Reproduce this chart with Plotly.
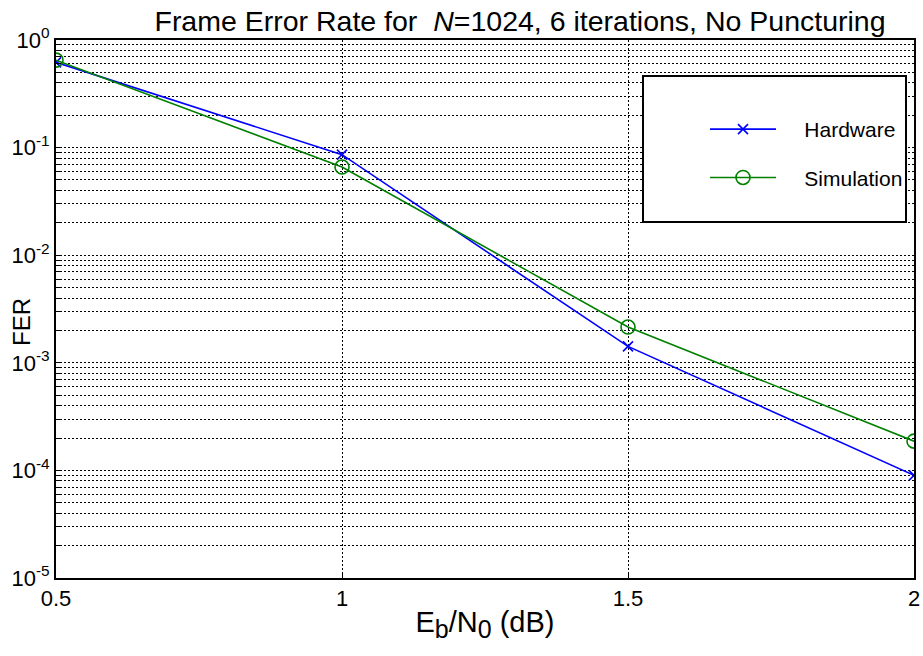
import plotly.graph_objects as go

# Eb/N0 operating points (dB)
ebn0 = [0.5, 1.0, 1.5, 2.0]

# Measured frame error rates
fer_hardware = [0.62, 0.086, 1.42e-3, 9.0e-5]
fer_simulation = [0.65, 0.066, 2.15e-3, 1.87e-4]

x_tick_vals = [0.5, 1.0, 1.5, 2.0]
x_tick_text = ["0.5", "1", "1.5", "2"]
decades = [-5, -4, -3, -2, -1, 0]

# Major ticks at each decade, unlabeled minor ticks at 2..9 x 10^n
y_tick_vals, y_tick_text = [], []
for d in decades:
    y_tick_vals.append(10.0 ** d)
    y_tick_text.append(f"10<sup>{d}</sup>")
    if d < 0:
        for k in range(2, 10):
            y_tick_vals.append(k * 10.0 ** d)
            y_tick_text.append("")

FONT = "Liberation Sans, Arial, sans-serif"
PAD = "\u00a0" * 4

ML, MR, MT, MB = 56, 9, 40, 78
W, H = 923, 656
PW, PH = W - ML - MR, H - MT - MB

fig = go.Figure()
fig.add_trace(go.Scatter(
    x=ebn0, y=fer_hardware, name=PAD + "Hardware", mode="lines+markers",
    line=dict(color="#0000FF", width=1.6),
    marker=dict(symbol="x-thin", size=10, line=dict(color="#0000FF", width=1.6)),
    legendgroup="hw",
))
fig.add_trace(go.Scatter(
    x=ebn0, y=fer_simulation, name=PAD + "Simulation", mode="lines+markers",
    line=dict(color="#008000", width=1.6),
    marker=dict(symbol="circle-open", size=14, line=dict(color="#008000", width=1.6)),
    legendgroup="sim",
))

# Legend frame
fig.add_shape(type="rect", xref="paper", yref="paper",
              x0=(643 - ML) / PW, x1=(906 - ML) / PW,
              y0=1 - (222 - MT) / PH, y1=1 - (76 - MT) / PH,
              fillcolor="white", line=dict(color="black", width=2), layer="above")

# Vertical axis label
fig.add_annotation(
    text="FER", textangle=-90, showarrow=False,
    xref="paper", yref="paper", x=-(ML - 21) / PW, y=1 - (322 - MT) / PH,
    xanchor="center", yanchor="middle",
    font=dict(family=FONT, size=24, color="black"),
)

fig.update_layout(
    width=W, height=H,
    margin=dict(l=ML, r=MR, t=MT, b=MB),
    paper_bgcolor="white", plot_bgcolor="white",
    font=dict(family=FONT, color="black", size=20),
    title=dict(
        text="Frame Error Rate for  <i>N</i>=1024, 6 iterations, No Puncturing",
        x=(520 - ML) / PW, xref="paper", xanchor="center",
        y=1 - 21 / H, yref="container", yanchor="middle",
        font=dict(family=FONT, size=28.5, color="black"),
    ),
    showlegend=True,
    legend=dict(
        x=(705 - ML) / PW, y=1 - (109 - MT) / PH, xanchor="left", yanchor="top",
        bgcolor="rgba(0,0,0,0)", borderwidth=0,
        font=dict(family=FONT, size=21, color="black"),
        tracegroupgap=18, itemwidth=66,
    ),
    xaxis=dict(
        range=[0.5, 2.0], tickvals=x_tick_vals, ticktext=x_tick_text,
        showgrid=True, gridcolor="black", gridwidth=1, griddash="2px,2px",
        ticks="inside", ticklen=5, tickcolor="black",
        showline=True, linecolor="black", linewidth=2, mirror=True,
        zeroline=False, tickfont=dict(size=22), automargin=False,
        title=dict(
            text="E<sub><span style='font-size:25px'>b</span></sub>/N"
                 "<sub><span style='font-size:25px'>0</span></sub> (dB)",
            font=dict(size=29), standoff=1,
        ),
    ),
    yaxis=dict(
        type="log", range=[-5, 0], tickvals=y_tick_vals, ticktext=y_tick_text,
        showgrid=True, gridcolor="black", gridwidth=1, griddash="2px,2px",
        ticks="inside", ticklen=5, tickcolor="black",
        showline=True, linecolor="black", linewidth=2, mirror=True,
        zeroline=False, tickfont=dict(size=22), automargin=False,
    ),
)

fig.write_html("out.html")
